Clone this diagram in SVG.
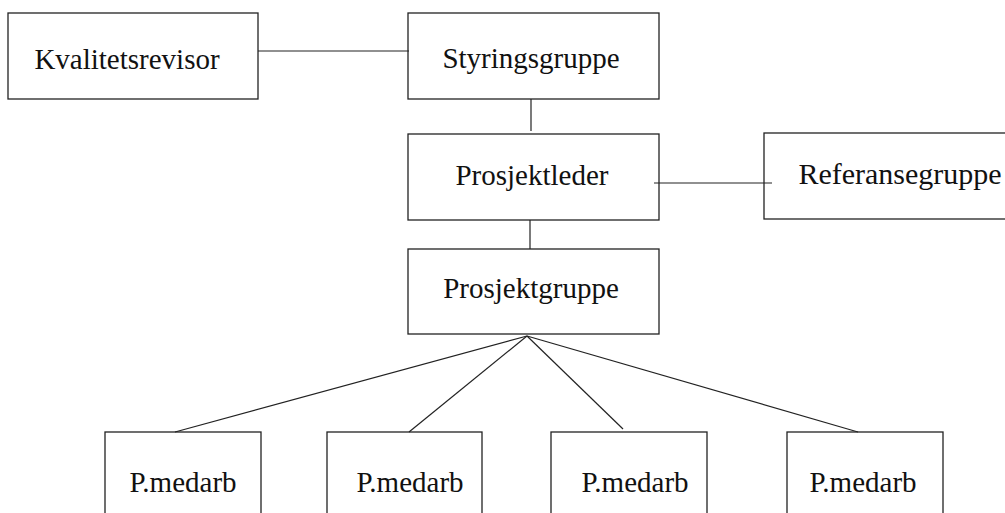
<svg xmlns="http://www.w3.org/2000/svg" width="1005" height="513" viewBox="0 0 1005 513">
<style>
.box{fill:#fff;stroke:#222;stroke-width:1.3}
.lbl{font-family:"Liberation Serif","Times New Roman",serif;font-size:29px;fill:#111;text-anchor:middle}
.con{stroke:#222;stroke-width:1.2;fill:none}
</style>
<rect width="1005" height="513" fill="#fff"/>
<g id="kvalitetsrevisor"><rect class="box" x="8" y="13" width="250" height="86"/><text class="lbl" x="127" y="69">Kvalitetsrevisor</text></g>
<g id="styringsgruppe"><rect class="box" x="408" y="13" width="251" height="86"/><text class="lbl" x="531" y="68">Styringsgruppe</text></g>
<g id="prosjektleder"><rect class="box" x="408" y="134" width="251" height="86"/><text class="lbl" x="532" y="185">Prosjektleder</text></g>
<g id="referansegruppe"><rect class="box" x="764" y="133" width="260" height="86"/><text class="lbl" x="900" y="184" style="font-size:30px">Referansegruppe</text></g>
<g id="prosjektgruppe"><rect class="box" x="408" y="249" width="251" height="85"/><text class="lbl" x="531" y="298">Prosjektgruppe</text></g>
<g id="pmedarb1"><rect class="box" x="105" y="432" width="156" height="100"/><text class="lbl" x="183" y="492">P.medarb</text></g>
<g id="pmedarb2"><rect class="box" x="327" y="432" width="155" height="100"/><text class="lbl" x="410" y="492">P.medarb</text></g>
<g id="pmedarb3"><rect class="box" x="551" y="432" width="156" height="100"/><text class="lbl" x="635" y="492">P.medarb</text></g>
<g id="pmedarb4"><rect class="box" x="787" y="432" width="156" height="100"/><text class="lbl" x="863" y="492">P.medarb</text></g>
<g id="connectors">
<line class="con" x1="258" y1="51" x2="409" y2="51"/>
<line class="con" x1="531" y1="99" x2="531" y2="131"/>
<line class="con" x1="654" y1="183" x2="772" y2="183"/>
<line class="con" x1="530" y1="220" x2="530" y2="249"/>
<line class="con" x1="527" y1="336" x2="175" y2="432"/>
<line class="con" x1="527" y1="336" x2="409" y2="432"/>
<line class="con" x1="527" y1="336" x2="623" y2="429"/>
<line class="con" x1="527" y1="336" x2="858" y2="432"/>
</g>
</svg>
